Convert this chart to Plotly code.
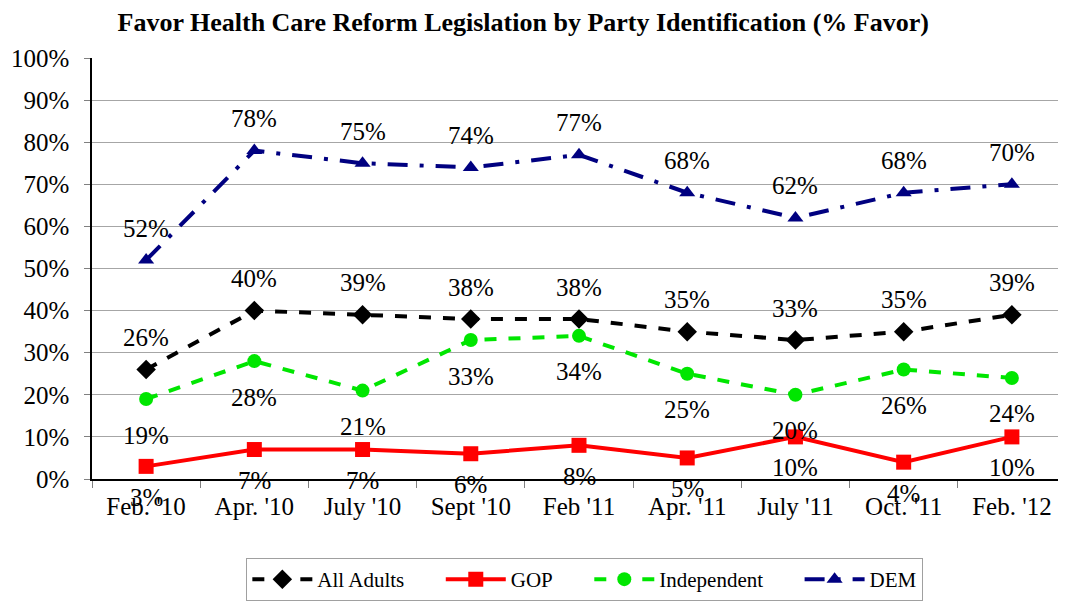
import plotly.graph_objects as go

months = ["Feb. '10", "Apr. '10", "July '10", "Sept '10", "Feb '11",
          "Apr. '11", "July '11", "Oct. '11", "Feb. '12"]
all_adults = [26, 40, 39, 38, 38, 35, 33, 35, 39]
gop = [3, 7, 7, 6, 8, 5, 10, 4, 10]
independent = [19, 28, 21, 33, 34, 25, 20, 26, 24]
dem = [52, 78, 75, 74, 77, 68, 62, 68, 70]

FONT = "Liberation Serif"
PAD = "\u00a0" * 6

series = [
    ("All Adults" + PAD, all_adults, "#000000", "dash", "diamond", 15, 32),
    ("GOP" + PAD, gop, "#FF0000", "solid", "square", 15, -31),
    ("Independent" + PAD, independent, "#00E600", "dash", "circle", 14, -36),
    ("DEM", dem, "#000080", "20px,12px,4px,12px", "triangle-up", 14, 32),
]

fig = go.Figure()
for name, vals, color, dash, symbol, size, shift in series:
    fig.add_trace(go.Scatter(
        x=months, y=vals, name=name, mode="lines+markers",
        line=dict(color=color, width=4, dash=dash),
        marker=dict(symbol=symbol, size=size, color=color),
    ))
    for m, v in zip(months, vals):
        fig.add_annotation(
            x=m, y=v, text=str(v) + "%", showarrow=False,
            yshift=shift, font=dict(size=25, color="#000000", family=FONT),
        )

# page body has an 8px default margin, so the figure is 8px smaller
fig.update_layout(
    width=1058, height=593,
    plot_bgcolor="#FFFFFF", paper_bgcolor="#FFFFFF",
    font=dict(family=FONT, size=25, color="#000000"),
    title=dict(
        text="<b>Favor Health Care Reform Legislation by Party Identification (% Favor)</b>",
        font=dict(size=26, family=FONT, color="#000000"),
        x=0.487, xanchor="center", y=0.977, yanchor="middle",
    ),
    margin=dict(l=84, r=0, t=50, b=119),
    xaxis=dict(
        type="category", tickson="boundaries", ticks="outside", ticklen=7,
        tickcolor="#808080", showline=True, linecolor="#000000", linewidth=1.5,
        showgrid=False, ticklabelstandoff=4, range=[-0.5, 8.5],
        tickfont=dict(size=25, family=FONT),
    ),
    yaxis=dict(
        range=[0, 100], dtick=10, ticksuffix="%", ticks="outside", ticklen=6,
        tickcolor="#808080", showline=True, linecolor="#000000", linewidth=1.5,
        gridcolor="#A6A6A6", gridwidth=1, zeroline=False,
        ticklabelstandoff=10, tickfont=dict(size=25, family=FONT),
    ),
    legend=dict(
        orientation="h", x=0.506, xanchor="center", y=-0.189, yanchor="top",
        bordercolor="#A0A0A0", borderwidth=1,
        font=dict(size=21, family=FONT, color="#000000"),
        itemwidth=60, tracegroupgap=0,
    ),
)

fig.write_html("out.html")
